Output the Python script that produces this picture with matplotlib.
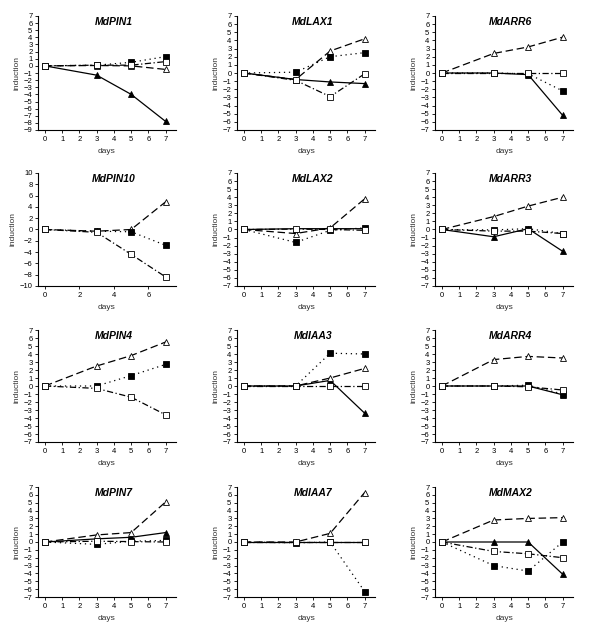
import numpy as np
import matplotlib
matplotlib.use("Agg")
import matplotlib.pyplot as plt

plt.rcParams['font.family'] = ['Liberation Sans', 'DejaVu Sans']

days = [0, 3, 5, 7]

# series order: filled triangle (solid), open triangle (dashed),
# filled square (dotted), open square (dash-dot); None = not drawn
genes = ["MdPIN1", "MdLAX1", "MdARR6",
         "MdPIN10", "MdLAX2", "MdARR3",
         "MdPIN4", "MdIAA3", "MdARR4",
         "MdPIN7", "MdIAA7", "MdMAX2"]

tri_fill = [[0, -1.3, -4.0, -7.8], [0, -0.8, -1.1, -1.3], [0, 0, -0.2, -5.2],
            None, [0, 0.1, 0.1, 0.1], [0, -0.9, 0.1, -2.7],
            None, [0, 0, 0.7, -3.4], [0, 0, 0, -1.1],
            [0, 0.4, 0.6, 1.2], [0, 0, 0, 0], [0, 0, 0, -4.1]]
tri_open = [[0, 0.05, 0.0, -0.5], [0, -0.8, 2.7, 4.2], [0, 2.4, 3.2, 4.4],
            [0, -0.3, 0.0, 4.9], [0, -0.5, 0.2, 3.8], [0, 1.6, 2.9, 4.0],
            [0, 2.5, 3.8, 5.5], [0, 0, 1.0, 2.2], [0, 3.3, 3.7, 3.5],
            [0, 0.9, 1.2, 5.1], [0, 0, 1.1, 6.3], [0, 2.8, 3.0, 3.1]]
sq_fill = [[0, 0.1, 0.5, 1.3], [0, 0.1, 2.0, 2.5], [0, 0, -0.1, -2.2],
           [0, -0.3, -0.4, -2.8], [0, -1.6, -0.1, 0.2], [0, -0.05, 0.1, -0.5],
           [0, 0, 1.3, 2.7], [0, 0, 4.1, 4.0], [0, 0, 0.1, -1.0],
           [0, -0.3, 0.1, 0.2], [0, -0.1, 0, -6.3], [0, -3.0, -3.7, 0]]
sq_open = [[0, 0.1, 0.1, 0.6], [0, -0.9, -2.9, -0.1], [0, 0, 0, 0],
           [0, -0.5, -4.4, -8.4], [0, 0.05, 0, -0.1], [0, -0.2, -0.2, -0.5],
           [0, -0.3, -1.4, -3.6], [0, 0, 0, 0], [0, 0, -0.1, -0.5],
           [0, 0.1, 0.05, 0], [0, 0, 0, 0], [0, -1.2, -1.5, -2.0]]

ylims = [(-9, 7), (-7, 7), (-7, 7),
         (-10, 10), (-7, 7), (-7, 7),
         (-7, 7), (-7, 7), (-7, 7),
         (-7, 7), (-7, 7), (-7, 7)]

W, H = 600, 633
fig = plt.figure(figsize=(6, 6.33), dpi=100)

col_left = [38, 237, 435]
row_box = [(16, 130), (173, 286), (330, 442), (487, 597)]
ax_w = 138

styles = [
    dict(ls="-", marker="^", mfc="black", mec="black"),
    dict(ls=(0, (6, 3)), marker="^", mfc="white", mec="black"),
    dict(ls=(0, (1, 3)), marker="s", mfc="black", mec="black"),
    dict(ls=(0, (5, 2, 1, 2)), marker="s", mfc="white", mec="black"),
]

for i, g in enumerate(genes):
    r, c = divmod(i, 3)
    top, bot = row_box[r]
    ax = fig.add_axes([col_left[c] / W, 1 - bot / H, ax_w / W, (bot - top) / H])
    for s, data in zip(styles, [tri_fill[i], tri_open[i], sq_fill[i], sq_open[i]]):
        if data is None:
            continue
        ax.plot(days, data, color="black", lw=0.9, ms=4.8, mew=0.6,
                clip_on=False, **s)
    lo, hi = ylims[i]
    ax.set_ylim(lo, hi)
    ax.set_xlim(-0.4, 7.6)
    if g == "MdPIN10":
        ax.set_yticks(np.arange(lo, hi + 1, 2))
        ax.set_xticks([0, 2, 4, 6])
    else:
        ax.set_yticks(np.arange(lo, hi + 1, 1))
        ax.set_xticks(range(0, 8))
    for side in ["top", "right"]:
        ax.spines[side].set_visible(False)
    for side in ["left", "bottom"]:
        ax.spines[side].set_linewidth(0.8)
    ax.tick_params(direction="out", length=2.5, width=0.6, labelsize=5.5, pad=1.5)
    ax.set_xlabel("days", fontsize=6, labelpad=4, color="#333333")
    ax.set_ylabel("induction", fontsize=6, labelpad=2, color="#333333")
    ax.text(0.55, 0.99, g, transform=ax.transAxes, ha="center", va="top",
            fontsize=7.5, fontweight="bold", fontstyle="italic")

fig.savefig("out.png", dpi=100)
